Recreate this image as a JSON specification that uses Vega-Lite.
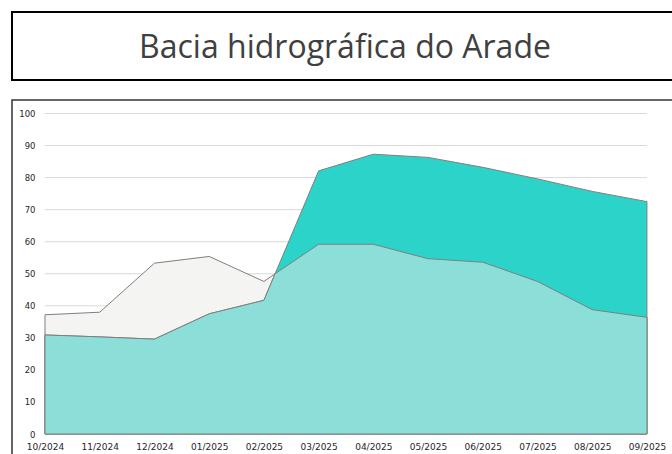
{
  "$schema": "https://vega.github.io/schema/vega-lite/v6.json",
  "padding": {"left": 11, "top": 11, "right": -7, "bottom": -10},
  "background": "white",
  "spacing": 18,
  "config": {"font": "DejaVu Sans"},
  "datasets": {
    "serie": [
      {"indice": 0, "armazenamento": 30.9, "media": 37.2, "inferior": 30.9},
      {"indice": 1, "armazenamento": 30.3, "media": 38.0, "inferior": 30.3},
      {"indice": 2, "armazenamento": 29.6, "media": 53.3, "inferior": 29.6},
      {"indice": 3, "armazenamento": 37.5, "media": 55.4, "inferior": 37.5},
      {"indice": 4, "armazenamento": 41.7, "media": 47.6, "inferior": 41.7},
      {"indice": 4.205, "armazenamento": 50.0, "media": 50.0, "inferior": 50.0},
      {"indice": 5, "armazenamento": 82.1, "media": 59.2, "inferior": 59.2},
      {"indice": 6, "armazenamento": 87.3, "media": 59.2, "inferior": 59.2},
      {"indice": 7, "armazenamento": 86.3, "media": 54.7, "inferior": 54.7},
      {"indice": 8, "armazenamento": 83.2, "media": 53.6, "inferior": 53.6},
      {"indice": 9, "armazenamento": 79.6, "media": 47.6, "inferior": 47.6},
      {"indice": 10, "armazenamento": 75.7, "media": 38.8, "inferior": 38.8},
      {"indice": 11, "armazenamento": 72.5, "media": 36.4, "inferior": 36.4}
    ],
    "grade": [
      {"v": 10}, {"v": 20}, {"v": 30}, {"v": 40}, {"v": 50},
      {"v": 60}, {"v": 70}, {"v": 80}, {"v": 90}, {"v": 100}
    ]
  },
  "vconcat": [
    {
      "width": 672,
      "height": 68,
      "view": {"stroke": "black", "strokeWidth": 2, "fill": "white"},
      "data": {"values": [{"titulo": "Bacia hidrográfica do Arade"}]},
      "mark": {
        "type": "text",
        "font": "Open Sans",
        "fontSize": 32,
        "color": "#404040",
        "align": "center",
        "baseline": "alphabetic",
        "dy": 11.5,
        "dx": -3
      },
      "encoding": {"text": {"field": "titulo"}}
    },
    {
      "width": 672,
      "height": 364,
      "view": {"stroke": "#333333", "strokeWidth": 1.5, "fill": "white"},
      "encoding": {
        "x": {
          "type": "quantitative",
          "scale": {"domain": [-0.603, 11.677], "nice": false, "zero": false},
          "axis": {
            "values": [0, 1, 2, 3, 4, 5, 6, 7, 8, 9, 10, 11],
            "labelExpr": "['10/2024','11/2024','12/2024','01/2025','02/2025','03/2025','04/2025','05/2025','06/2025','07/2025','08/2025','09/2025'][datum.value]",
            "orient": "bottom",
            "offset": -21.5,
            "domain": false,
            "ticks": false,
            "tickSize": 0,
            "grid": false,
            "labelPadding": 0,
            "labelFlush": false,
            "labelOverlap": false,
            "labelFontSize": 9,
            "labelColor": "#262626",
            "title": null
          }
        },
        "y": {
          "type": "quantitative",
          "scale": {"domain": [-9.36, 104.21], "nice": false, "zero": false},
          "axis": {
            "values": [0, 10, 20, 30, 40, 50, 60, 70, 80, 90, 100],
            "orient": "left",
            "offset": -24,
            "domain": false,
            "ticks": false,
            "tickSize": 0,
            "grid": false,
            "labelPadding": 1,
            "labelOverlap": false,
            "labelFontSize": 8.5,
            "labelColor": "#262626",
            "title": null
          }
        }
      },
      "layer": [
        {
          "data": {"name": "grade"},
          "mark": {"type": "rule", "color": "#d9d9d9", "strokeWidth": 1},
          "encoding": {
            "y": {"field": "v"},
            "x": {"datum": 0},
            "x2": {"datum": 11}
          }
        },
        {
          "data": {"name": "serie"},
          "mark": {"type": "area", "fill": "#f4f4f3", "stroke": "#7f7f7f", "strokeWidth": 1},
          "encoding": {
            "x": {"field": "indice"},
            "y": {"field": "media"},
            "y2": {"datum": 0}
          }
        },
        {
          "data": {"name": "serie"},
          "mark": {"type": "area", "fill": "#2cd3c9", "stroke": "#7f7f7f", "strokeWidth": 1},
          "encoding": {
            "x": {"field": "indice"},
            "y": {"field": "armazenamento"},
            "y2": {"datum": 0}
          }
        },
        {
          "data": {"name": "serie"},
          "mark": {"type": "area", "fill": "#8cdfd8", "stroke": "#7f7f7f", "strokeWidth": 1},
          "encoding": {
            "x": {"field": "indice"},
            "y": {"field": "inferior"},
            "y2": {"datum": 0}
          }
        }
      ]
    }
  ]
}
